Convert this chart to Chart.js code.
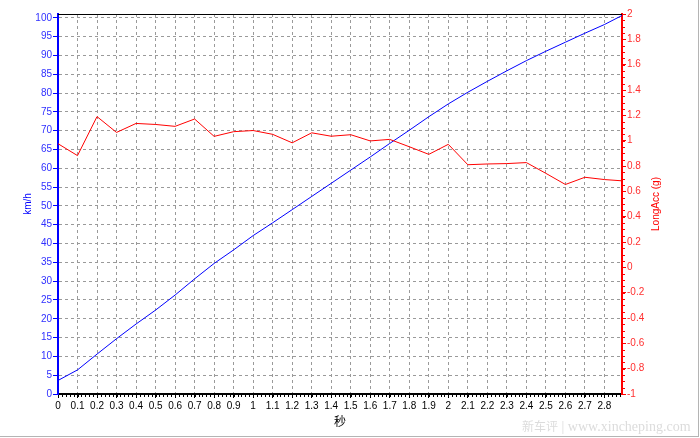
<!DOCTYPE html>
<html>
<head>
<meta charset="utf-8">
<script src="https://cdn.jsdelivr.net/npm/chart.js@4/dist/chart.umd.min.js"></script>
<style>
  html, body { margin: 0; padding: 0; background: #fff; }
  #wrap { position: relative; width: 700px; height: 438px; }
  #wrap canvas { position: absolute; left: 0; top: 0; }
  #frame { position: absolute; left: 0; top: 0; width: 698px; height: 436px;
           border-right: 1px solid #b4b4b4; border-bottom: 1px solid #b4b4b4; pointer-events: none; }
  #mark { position: absolute; left: 522px; top: 417px; color: #dcdcdc;
          font: 14px "Liberation Serif", serif; white-space: nowrap; }
  #mark .cn { font: 12px "Noto Sans CJK SC", sans-serif; }
</style>
</head>
<body>
<div id="wrap">
  <canvas id="accChart" width="700" height="438"></canvas>
  <div id="frame"></div>
  <div id="mark"><span class="cn">新车评</span> | www.xincheping.com</div>
</div>
<script>
// 시간(초)
const timeValues = [0, 0.1, 0.2, 0.3, 0.4, 0.5, 0.6, 0.7, 0.8, 0.9, 1.0, 1.1, 1.2, 1.3, 1.4,
    1.5, 1.6, 1.7, 1.8, 1.9, 2.0, 2.1, 2.2, 2.3, 2.4, 2.5, 2.6, 2.7, 2.8, 2.89];

// 속도 km/h (파란 선)
const speedValues = [3.6, 6.4, 10.6, 14.7, 18.6, 22.3, 26.3, 30.6, 34.7, 38.3, 42.1, 45.5, 49.0,
    52.5, 56.0, 59.5, 63.0, 66.6, 70.1, 73.7, 77.1, 80.2, 83.1, 85.9, 88.6, 91.1, 93.5, 95.9, 98.2, 100.6];

// 종방향 가속도 g (빨간 선)
const accValues = [0.976, 0.882, 1.19, 1.065, 1.136, 1.128, 1.113, 1.171, 1.034, 1.071, 1.08, 1.05,
    0.983, 1.062, 1.035, 1.047, 0.998, 1.01, 0.952, 0.892, 0.971, 0.81, 0.816, 0.819, 0.827,
    0.742, 0.654, 0.711, 0.693, 0.683];

// 눈금 라벨
const timeTicks = [0, 0.1, 0.2, 0.3, 0.4, 0.5, 0.6, 0.7, 0.8, 0.9, 1, 1.1, 1.2, 1.3, 1.4,
    1.5, 1.6, 1.7, 1.8, 1.9, 2, 2.1, 2.2, 2.3, 2.4, 2.5, 2.6, 2.7, 2.8];
const speedTicks = [0, 5, 10, 15, 20, 25, 30, 35, 40, 45, 50, 55, 60, 65, 70, 75, 80, 85, 90, 95, 100];
const accTicks = [-1, -0.8, -0.6, -0.4, -0.2, 0, 0.2, 0.4, 0.6, 0.8, 1, 1.2, 1.4, 1.6, 1.8, 2];

const TICK_FONT = { family: "'Liberation Sans', Arial, sans-serif", size: 10 };

function fmt(v) {
    return String(Math.round(v * 10) / 10);
}

// 축 제목, 위쪽 테두리, 보조 눈금
const decorPlugin = {
    id: "decor",
    afterDraw(chart) {
        const { ctx, chartArea: a, scales } = chart;
        ctx.save();

        // top border
        ctx.strokeStyle = "#000";
        ctx.lineWidth = 1;
        ctx.beginPath();
        ctx.moveTo(a.left, a.top + 0.5);
        ctx.lineTo(a.right, a.top + 0.5);
        ctx.stroke();

        // x minor ticks (0.02)
        ctx.beginPath();
        for (let i = 0; i <= 144; i++) {
            const px = Math.round(scales.x.getPixelForValue(i * 0.02)) + 0.5;
            if (px > a.right) break;
            ctx.moveTo(px, a.bottom + 1);
            ctx.lineTo(px, a.bottom + 3);
        }
        ctx.stroke();

        // right minor ticks (0.05)
        ctx.strokeStyle = "#ff0000";
        ctx.beginPath();
        for (let i = 0; i <= 60; i++) {
            const py = Math.round(scales.y1.getPixelForValue(-1 + i * 0.05)) + 0.5;
            ctx.moveTo(a.right + 1, py);
            ctx.lineTo(a.right + 3, py);
        }
        ctx.stroke();

        const midY = (a.top + a.bottom) / 2;
        ctx.font = "10px 'Liberation Sans', Arial, sans-serif";
        ctx.textAlign = "center";
        ctx.textBaseline = "middle";

        ctx.fillStyle = "#0000ff";
        ctx.save();
        ctx.translate(28, midY);
        ctx.rotate(-Math.PI / 2);
        ctx.fillText("km/h", 0, 0);
        ctx.restore();

        ctx.fillStyle = "#ff0000";
        ctx.save();
        ctx.translate(656, midY);
        ctx.rotate(-Math.PI / 2);
        ctx.fillText("LongAcc (g)", 0, 0);
        ctx.restore();

        ctx.fillStyle = "#000";
        ctx.font = "12px 'Noto Sans CJK SC', sans-serif";
        ctx.fillText("秒", (a.left + a.right) / 2, 421);

        ctx.restore();
    },
};

const ctx = document.getElementById("accChart").getContext("2d");

new Chart(ctx, {
    type: "line",
    data: {
        datasets: [
            {
                label: "LongAcc (g)",
                data: timeValues.map((t, i) => ({ x: t, y: accValues[i] })),
                yAxisID: "y1",
                borderColor: "#ff0000",
                borderWidth: 1,
                pointRadius: 0,
                tension: 0,
            },
            {
                label: "km/h",
                data: timeValues.map((t, i) => ({ x: t, y: speedValues[i] })),
                yAxisID: "y",
                borderColor: "#0000ff",
                borderWidth: 1,
                pointRadius: 0,
                tension: 0,
            },
        ],
    },
    options: {
        responsive: false,
        animation: false,
        layout: { padding: { top: 14, left: 0, right: 0, bottom: 0 } },
        plugins: {
            legend: { display: false },
            tooltip: { enabled: false },
        },
        scales: {
            x: {
                type: "linear",
                min: 0,
                max: 2.89,
                afterBuildTicks: (s) => { s.ticks = timeTicks.map((v) => ({ value: v })); },
                afterFit: (s) => { s.height = 44; },
                ticks: {
                    color: "#000",
                    font: TICK_FONT,
                    padding: 2,
                    maxRotation: 0,
                    autoSkip: false,
                    callback: (v) => fmt(v),
                },
                grid: {
                    color: "#9a9a9a",
                    lineWidth: 1,
                    tickColor: "#000",
                    tickLength: 4,
                },
                border: { color: "#000", width: 2, dash: [3, 3] },
            },
            y: {
                position: "left",
                min: 0,
                max: 101,
                afterBuildTicks: (s) => { s.ticks = speedTicks.map((v) => ({ value: v })); },
                afterFit: (s) => { s.width = 58; },
                ticks: {
                    color: "#3030ff",
                    font: TICK_FONT,
                    padding: 1,
                    autoSkip: false,
                },
                grid: {
                    color: "#9a9a9a",
                    lineWidth: 1,
                    tickColor: "#0000ff",
                    tickLength: 5,
                },
                border: { color: "#0000ff", width: 2, dash: [3, 3] },
            },
            y1: {
                position: "right",
                min: -1,
                max: 2,
                afterBuildTicks: (s) => { s.ticks = accTicks.map((v) => ({ value: v })); },
                afterFit: (s) => { s.width = 78; },
                ticks: {
                    color: "#ff3030",
                    font: TICK_FONT,
                    padding: 1,
                    autoSkip: false,
                    callback: (v) => fmt(v),
                },
                grid: {
                    drawOnChartArea: false,
                    tickColor: "#ff0000",
                    tickLength: 4,
                },
                border: { color: "#ff0000", width: 2 },
            },
        },
    },
    plugins: [decorPlugin],
});
</script>
</body>
</html>
